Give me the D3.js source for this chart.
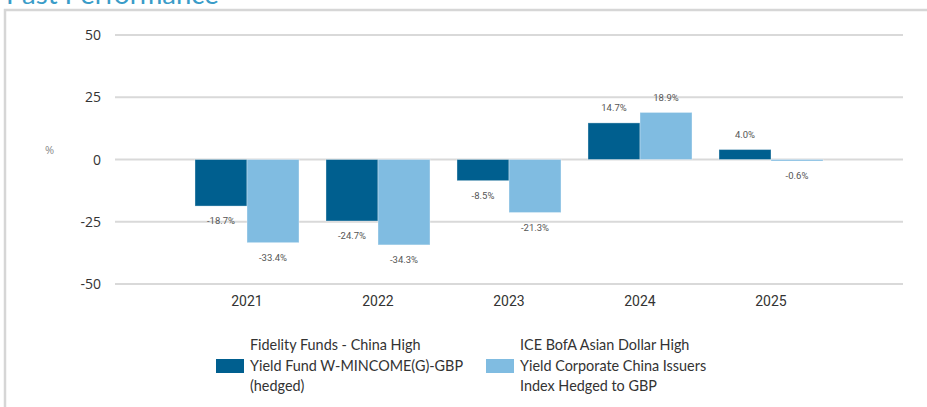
<!DOCTYPE html>
<html>
<head>
<meta charset="utf-8">
<script src="https://cdn.jsdelivr.net/npm/d3@7"></script>
<style>
	body { margin: 0; background: #fff; }
	svg { display: block; }
</style>
</head>
<body>
<div id="chart"></div>
<script>
// chart data
const years = ["2021", "2022", "2023", "2024", "2025"];
const fundValues = [-18.7, -24.7, -8.5, 14.7, 4.0];
const indexValues = [-33.4, -34.3, -21.3, 18.9, -0.6];
const yTicks = [50, 25, 0, -25, -50];
const seriesNames = [
	["Fidelity Funds - China High", "Yield Fund W-MINCOME(G)-GBP", "(hedged)"],
	["ICE BofA Asian Dollar High", "Yield Corporate China Issuers", "Index Hedged to GBP"]
];
const colors = ["#005f8f", "#80bce1"];

const width = 927, height = 407;

const svg = d3.select("#chart").append("svg")
	.attr("width", width)
	.attr("height", height);

// title (the reference only shows its lower edge)
svg.append("text")
	.attr("x", 6)
	.attr("y", 4)
	.attr("fill", "#3a9cc8")
	.attr("font-family", "Lato, sans-serif")
	.attr("font-size", 27.5)
	.text("Past Performance");

// outer frame
svg.append("path")
	.attr("d", `M5,${height} V10 H${width}`)
	.attr("fill", "none")
	.attr("stroke", "#d6d6d6")
	.attr("stroke-width", 2.5);

const y = d3.scaleLinear()
	.domain([-50, 50])
	.range([284, 35]);

const x0 = d3.scaleBand()
	.domain(years)
	.range([181.5, 836.5])
	.paddingInner(0.206)
	.paddingOuter(0.103);

const x1 = d3.scaleBand()
	.domain([0, 1])
	.range([0, x0.bandwidth()]);

// gridlines
svg.append("g")
	.selectAll("line")
	.data(yTicks)
	.join("line")
	.attr("x1", 115)
	.attr("x2", 903)
	.attr("y1", d => y(d))
	.attr("y2", d => y(d))
	.attr("stroke", "#d9d9d9")
	.attr("stroke-width", 2);

// y tick labels
svg.append("g")
	.selectAll("text")
	.data(yTicks)
	.join("text")
	.attr("x", 101)
	.attr("y", d => y(d) + 5)
	.attr("text-anchor", "end")
	.attr("fill", "#333")
	.attr("font-family", "'Open Sans', sans-serif")
	.attr("font-size", 14)
	.text(d => d);

svg.append("text")
	.attr("x", 45)
	.attr("y", 154)
	.attr("fill", "#888")
	.attr("font-family", "'Open Sans', sans-serif")
	.attr("font-size", 11)
	.text("%");

// bars
const series = [fundValues, indexValues];
series.forEach((vals, s) => {
	const g = svg.append("g");
	g.selectAll("rect")
		.data(vals)
		.join("rect")
		.attr("x", (d, i) => x0(years[i]) + x1(s))
		.attr("width", x1.bandwidth())
		.attr("y", d => y(Math.max(0, d)))
		.attr("height", d => Math.abs(y(d) - y(0)))
		.attr("fill", colors[s])
		.attr("stroke", "rgba(255,255,255,0.35)")
		.attr("stroke-width", 1);

	g.selectAll("text")
		.data(vals)
		.join("text")
		.attr("x", (d, i) => x0(years[i]) + x1(s) + x1.bandwidth() / 2)
		.attr("y", d => d >= 0 ? y(d) - 15 : y(d) + 15)
		.attr("dy", "0.35em")
		.attr("text-anchor", "middle")
		.attr("fill", "#555")
		.attr("font-family", "Roboto, sans-serif")
		.attr("font-size", 9.5)
		.text(d => d.toFixed(1) + "%");
});

// x labels
svg.append("g")
	.selectAll("text")
	.data(years)
	.join("text")
	.attr("x", d => x0(d) + x0.bandwidth() / 2)
	.attr("y", 306)
	.attr("text-anchor", "middle")
	.attr("fill", "#333")
	.attr("font-family", "Roboto, sans-serif")
	.attr("font-size", 14)
	.text(d => d);

// legend
const legendX = [216, 486];
seriesNames.forEach((lines, s) => {
	const lg = svg.append("g").attr("transform", `translate(${legendX[s]},0)`);
	lg.append("rect")
		.attr("x", 0)
		.attr("y", 359)
		.attr("width", 28)
		.attr("height", 14)
		.attr("fill", colors[s]);
	lg.append("text")
		.attr("fill", "#333")
		.attr("font-family", "Lato, sans-serif")
		.attr("font-size", 14.4)
		.selectAll("tspan")
		.data(lines)
		.join("tspan")
		.attr("x", 34)
		.attr("y", (d, i) => 350 + i * 20.5)
		.text(d => d);
});
</script>
</body>
</html>
